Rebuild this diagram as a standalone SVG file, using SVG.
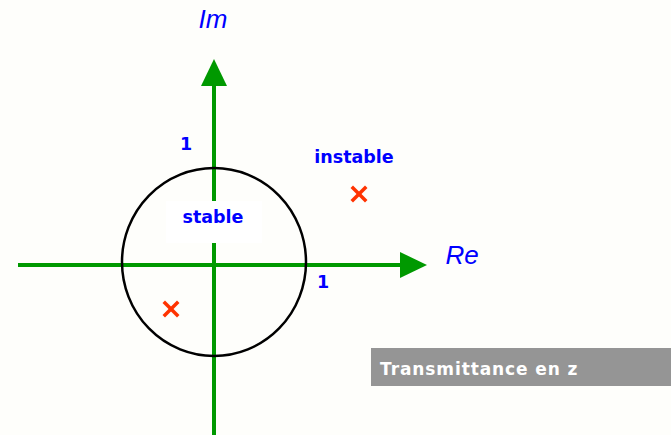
<svg xmlns="http://www.w3.org/2000/svg" width="671" height="435" viewBox="0 0 671 435">
<style>
.axis{stroke:#009900;stroke-width:4;fill:none}
.head{fill:#009900}
.lbl{fill:#0000ff}
.b{font-family:"DejaVu Sans",Verdana,sans-serif;font-weight:bold;font-size:17.5px}
.it{font-family:"Liberation Sans",Arial,sans-serif;font-style:italic;font-size:26px}
.x{stroke:#ff3300;stroke-width:3.5;stroke-linecap:square}
</style>
<rect width="671" height="435" fill="#fefefb"/>
<g id="connectors">
<line class="axis" x1="18" y1="265" x2="402" y2="265"/>
<polygon class="head" points="400,252 427,265 400,278"/>
<line class="axis" x1="214" y1="435" x2="214" y2="84"/>
<polygon class="head" points="201,86 214,59 227,86"/>
</g>
<g id="unit-circle">
<ellipse cx="214" cy="262" rx="92" ry="94" fill="none" stroke="#000" stroke-width="2.5"/>
</g>
<g id="stable">
<rect x="166" y="201" width="96" height="42" fill="#ffffff"/>
<text class="lbl b" x="213" y="223" text-anchor="middle">stable</text>
</g>
<g id="instable">
<text class="lbl b" x="354" y="163" text-anchor="middle">instable</text>
</g>
<g id="im"><text class="lbl it" x="213" y="28" text-anchor="middle">Im</text></g>
<g id="re"><text class="lbl it" x="462" y="264" text-anchor="middle">Re</text></g>
<g id="one-im"><text class="lbl b" x="186" y="150" text-anchor="middle">1</text></g>
<g id="one-re"><text class="lbl b" x="323" y="288" text-anchor="middle">1</text></g>
<g id="pole-in">
<line class="x" x1="165" y1="303" x2="177" y2="315"/>
<line class="x" x1="177" y1="303" x2="165" y2="315"/>
</g>
<g id="pole-out">
<line class="x" x1="353" y1="188" x2="365" y2="200"/>
<line class="x" x1="365" y1="188" x2="353" y2="200"/>
</g>
<g id="banner">
<rect x="371" y="348" width="300" height="38" fill="#959595"/>
<text x="380" y="375" font-family="'DejaVu Sans',sans-serif" font-weight="bold" font-size="17" fill="#ffffff" letter-spacing="0.9">Transmittance en z</text>
</g>
</svg>
